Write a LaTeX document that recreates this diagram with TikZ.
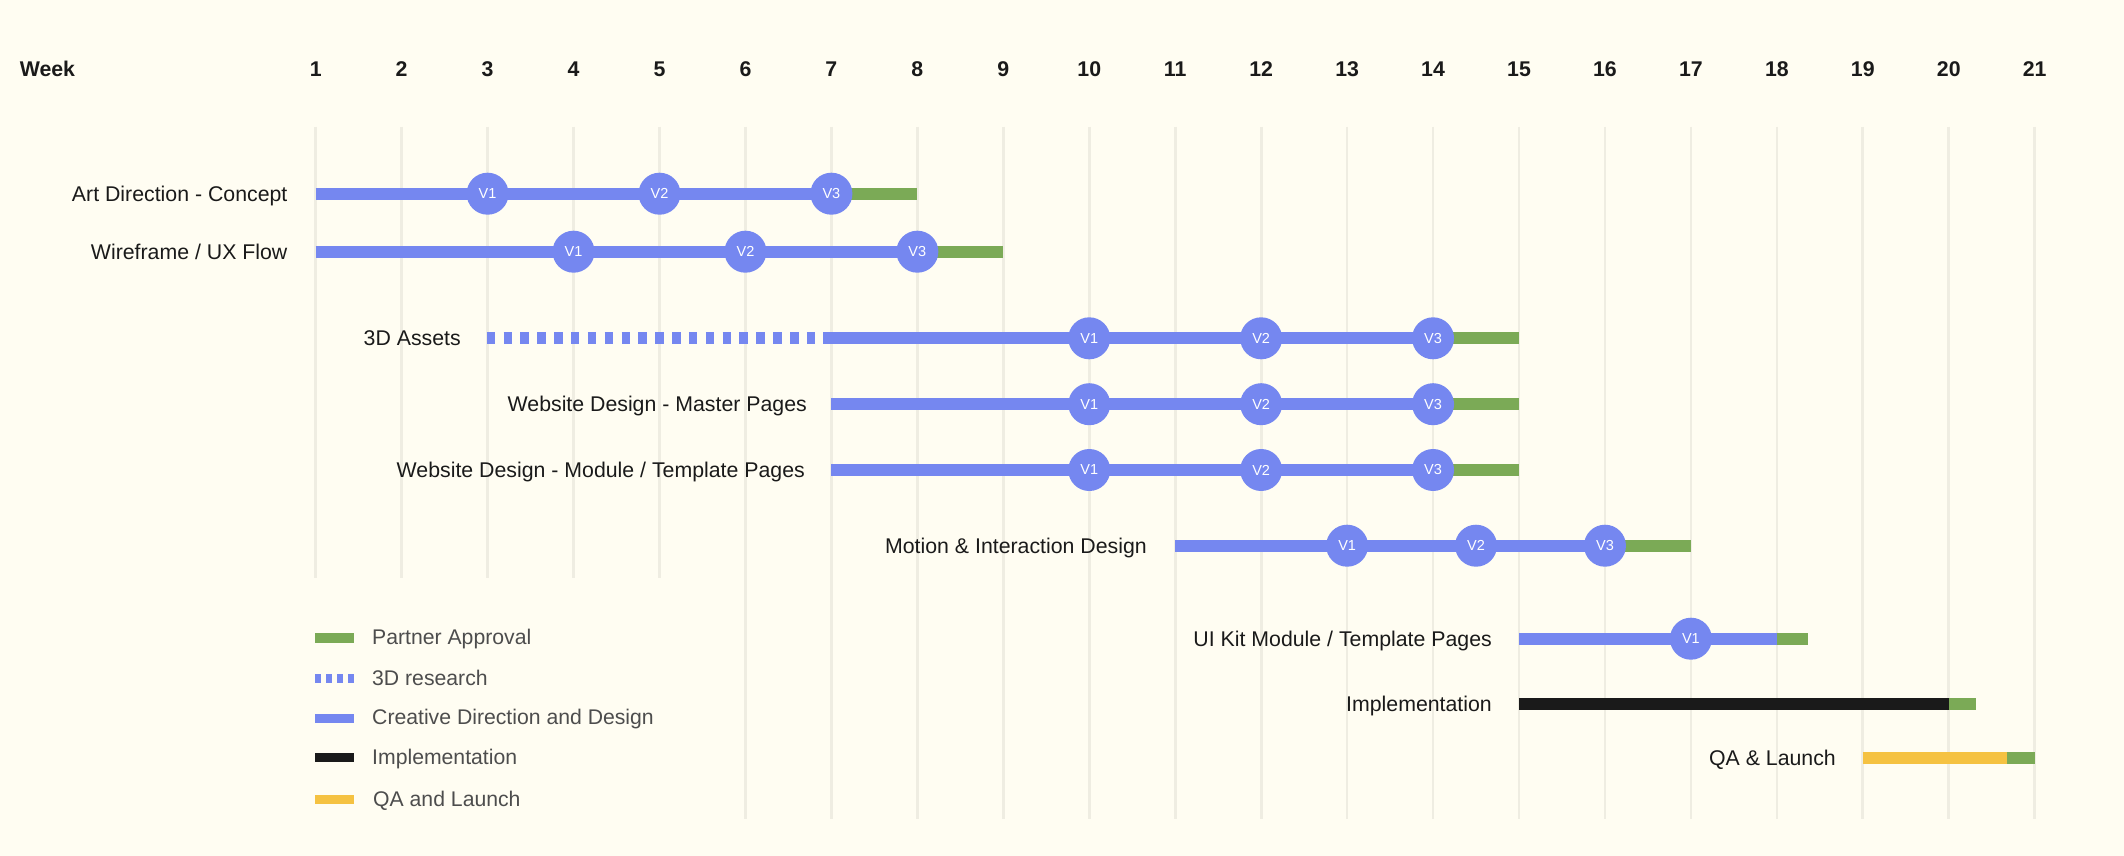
\documentclass[tikz,border=0pt]{standalone}
\usepackage{fontspec}
\setmainfont{Liberation Sans}
\definecolor{bg}{HTML}{FFFDF2}
\definecolor{gridc}{HTML}{EFEDE2}
\definecolor{cblue}{HTML}{7587F0}
\definecolor{cgreen}{HTML}{7BAA56}
\definecolor{cblack}{HTML}{1A1A1A}
\definecolor{cyellow}{HTML}{F5C242}
\definecolor{legtext}{HTML}{4D4D4D}
\pgfmathdeclarefunction{wk}{1}{\pgfmathparse{315.7+(#1-1)*85.95}}
\tikzset{
  lbl/.style={anchor=east, inner sep=0pt, text height=15.3pt, text depth=0pt,
    font=\fontsize{21.3}{25}\selectfont, text=cblack},
  legtxt/.style={anchor=west, inner sep=0pt, text height=15.2pt, text depth=0pt,
    font=\fontsize{21.2}{25}\selectfont, text=legtext},
  hdr/.style={inner sep=0pt, text height=15.3pt, text depth=0pt,
    font=\fontsize{21.3}{25}\selectfont\bfseries, text=cblack},
  ms/.style={circle, fill=cblue, minimum size=42pt, inner sep=0pt, text=white,
    font=\fontsize{14.5}{15}\selectfont},
  gridline/.style={gridc, line width=2.7pt},
  bluebar/.style={cblue, line width=12pt},
  dashbar/.style={cblue, line width=12pt, dash pattern=on 8.5pt off 8.35pt},
  greenbar/.style={cgreen, line width=12pt},
  blackbar/.style={cblack, line width=12pt},
  yellowbar/.style={cyellow, line width=12pt},
  legbar/.style={line width=9.3pt},
}
\begin{document}
\begin{tikzpicture}[x=1pt,y=-1pt]
\fill[bg] (0,0) rectangle (2124,856);
\useasboundingbox (0,0) rectangle (2124,856);

% grid
\foreach \w in {1,...,5} \draw[gridline] ({wk(\w)},126.7) -- ({wk(\w)},578);
\foreach \w in {6,...,21} \draw[gridline] ({wk(\w)},126.7) -- ({wk(\w)},819);

% header
\node[hdr, anchor=west] (week) at (19.6,69) {Week};
\foreach \w in {1,...,21} \node[hdr] (h\w) at ({wk(\w)},69) {\w};

% Row 1: Art Direction - Concept
\coordinate (r1a) at ({wk(1)},193.7);
\coordinate (r1m) at ({wk(7)},193.7);
\coordinate (r1b) at ({wk(8)},193.7);
\node[lbl] (l1) at (287.6,193.7) {Art Direction - Concept};
\draw[bluebar] (r1a) -- (r1m);
\draw[greenbar] (r1m) -- (r1b);
\node[ms] (r1v1) at ({wk(3)},193.7) {V1};
\node[ms] (r1v2) at ({wk(5)},193.7) {V2};
\node[ms] (r1v3) at (r1m) {V3};

% Row 2: Wireframe / UX Flow
\coordinate (r2a) at ({wk(1)},251.7);
\coordinate (r2m) at ({wk(8)},251.7);
\coordinate (r2b) at ({wk(9)},251.7);
\node[lbl] (l2) at (287.6,251.7) {Wireframe / UX Flow};
\draw[bluebar] (r2a) -- (r2m);
\draw[greenbar] (r2m) -- (r2b);
\node[ms] (r2v1) at ({wk(4)},251.7) {V1};
\node[ms] (r2v2) at ({wk(6)},251.7) {V2};
\node[ms] (r2v3) at (r2m) {V3};

% Row 3: 3D Assets
\coordinate (r3d) at (486.7,338.3);
\coordinate (r3e) at (815.4,338.3);
\coordinate (r3a) at (823.3,338.3);
\coordinate (r3m) at ({wk(14)},338.3);
\coordinate (r3b) at ({wk(15)},338.3);
\node[lbl] (l3) at (461,338.3) {3D Assets};
\draw[dashbar] (r3d) -- (r3e);
\draw[bluebar] (r3a) -- (r3m);
\draw[greenbar] (r3m) -- (r3b);
\node[ms] (r3v1) at ({wk(10)},338.3) {V1};
\node[ms] (r3v2) at ({wk(12)},338.3) {V2};
\node[ms] (r3v3) at (r3m) {V3};

% Row 4: Website Design - Master Pages
\coordinate (r4a) at ({wk(7)},404.2);
\coordinate (r4m) at ({wk(14)},404.2);
\coordinate (r4b) at ({wk(15)},404.2);
\node[lbl] (l4) at (807,404.2) {Website Design - Master Pages};
\draw[bluebar] (r4a) -- (r4m);
\draw[greenbar] (r4m) -- (r4b);
\node[ms] (r4v1) at ({wk(10)},404.2) {V1};
\node[ms] (r4v2) at ({wk(12)},404.2) {V2};
\node[ms] (r4v3) at (r4m) {V3};

% Row 5: Website Design - Module / Template Pages
\coordinate (r5a) at ({wk(7)},470);
\coordinate (r5m) at ({wk(14)},470);
\coordinate (r5b) at ({wk(15)},470);
\node[lbl] (l5) at (805,470) {Website Design - Module / Template Pages};
\draw[bluebar] (r5a) -- (r5m);
\draw[greenbar] (r5m) -- (r5b);
\node[ms] (r5v1) at ({wk(10)},470) {V1};
\node[ms] (r5v2) at ({wk(12)},470) {V2};
\node[ms] (r5v3) at (r5m) {V3};

% Row 6: Motion & Interaction Design
\coordinate (r6a) at ({wk(11)},545.7);
\coordinate (r6m) at ({wk(16)},545.7);
\coordinate (r6b) at ({wk(17)},545.7);
\node[lbl] (l6) at (1147,545.7) {Motion \& Interaction Design};
\draw[bluebar] (r6a) -- (r6m);
\draw[greenbar] (r6m) -- (r6b);
\node[ms] (r6v1) at ({wk(13)},545.7) {V1};
\node[ms] (r6v2) at ({wk(14.5)},545.7) {V2};
\node[ms] (r6v3) at (r6m) {V3};

% Row 7: UI Kit Module / Template Pages
\coordinate (r7a) at ({wk(15)},638.7);
\coordinate (r7m) at ({wk(18)},638.7);
\coordinate (r7b) at (1808,638.7);
\node[lbl] (l7) at (1492,638.7) {UI Kit Module / Template Pages};
\draw[bluebar] (r7a) -- (r7m);
\draw[greenbar] (r7m) -- (r7b);
\node[ms] (r7v1) at ({wk(17)},638.7) {V1};

% Row 8: Implementation
\coordinate (r8a) at ({wk(15)},703.7);
\coordinate (r8m) at ({wk(20)},703.7);
\coordinate (r8b) at (1976,703.7);
\node[lbl] (l8) at (1492,703.7) {Implementation};
\draw[blackbar] (r8a) -- (r8m);
\draw[greenbar] (r8m) -- (r8b);

% Row 9: QA & Launch
\coordinate (r9a) at ({wk(19)},758.2);
\coordinate (r9m) at (2007,758.2);
\coordinate (r9b) at ({wk(21)},758.2);
\node[lbl] (l9) at (1836,758.2) {QA \& Launch};
\draw[yellowbar] (r9a) -- (r9m);
\draw[greenbar] (r9m) -- (r9b);

% Legend
\coordinate (g1a) at (315,638); \coordinate (g1b) at (354,638);
\coordinate (g2a) at (315,678.5); \coordinate (g2b) at (354,678.5);
\coordinate (g3a) at (315,718.3); \coordinate (g3b) at (354,718.3);
\coordinate (g4a) at (315,757.5); \coordinate (g4b) at (354,757.5);
\coordinate (g5a) at (315,799.5); \coordinate (g5b) at (354,799.5);
\draw[legbar, cgreen] (g1a) -- (g1b);
\draw[legbar, cblue, dash pattern=on 5.7pt off 5.4pt] (g2a) -- (g2b);
\draw[legbar, cblue] (g3a) -- (g3b);
\draw[legbar, cblack] (g4a) -- (g4b);
\draw[legbar, cyellow] (g5a) -- (g5b);
\node[legtxt] (t1) at (372,637) {Partner Approval};
\node[legtxt] (t2) at (372,677.5) {3D research};
\node[legtxt] (t3) at (372,717.3) {Creative Direction and Design};
\node[legtxt] (t4) at (372,756.5) {Implementation};
\node[legtxt] (t5) at (373,798.5) {QA and Launch};
\end{tikzpicture}
\end{document}
